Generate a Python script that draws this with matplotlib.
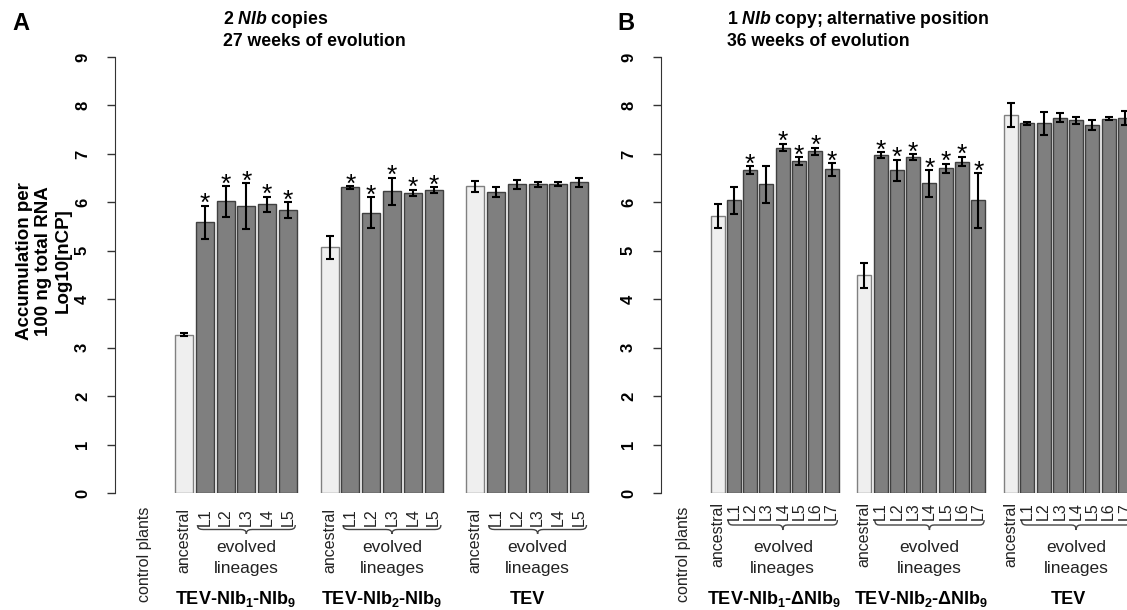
import matplotlib
matplotlib.use("Agg")
import matplotlib.pyplot as plt
from matplotlib.path import Path
from matplotlib.patches import PathPatch

plt.rcParams['font.family'] = ['Liberation Sans', 'DejaVu Sans']
plt.rcParams['mathtext.fontset'] = 'custom'
plt.rcParams['mathtext.rm'] = 'Liberation Sans'
plt.rcParams['mathtext.bf'] = 'Liberation Sans:bold'
plt.rcParams['mathtext.it'] = 'Liberation Sans:italic:bold'

# ---- data (log10 nCP, mean +/- error) ----
# panel A: 2 NIb copies, 27 weeks
a_names = [r'TEV-NIb$_{\mathbf{1}}$-NIb$_{\mathbf{9}}$',
           r'TEV-NIb$_{\mathbf{2}}$-NIb$_{\mathbf{9}}$', 'TEV']
a_lines = ['ancestral', 'L1', 'L2', 'L3', 'L4', 'L5']
a_mean = [[3.27, 5.59, 6.02, 5.92, 5.96, 5.84],
          [5.07, 6.31, 5.79, 6.23, 6.20, 6.26],
          [6.33, 6.22, 6.37, 6.37, 6.38, 6.41]]
a_err = [[0.03, 0.34, 0.32, 0.47, 0.16, 0.16],
         [0.24, 0.03, 0.31, 0.28, 0.06, 0.06],
         [0.11, 0.10, 0.10, 0.05, 0.05, 0.10]]
a_sig = [[0, 1, 1, 1, 1, 1],
         [0, 1, 1, 1, 1, 1],
         [0, 0, 0, 0, 0, 0]]

# panel B: 1 NIb copy, alternative position, 36 weeks
b_names = [r'TEV-NIb$_{\mathbf{1}}$-ΔNIb$_{\mathbf{9}}$',
           r'TEV-NIb$_{\mathbf{2}}$-ΔNIb$_{\mathbf{9}}$', 'TEV']
b_lines = ['ancestral', 'L1', 'L2', 'L3', 'L4', 'L5', 'L6', 'L7']
b_mean = [[5.71, 6.04, 6.66, 6.37, 7.13, 6.85, 7.05, 6.68],
          [4.49, 6.97, 6.66, 6.93, 6.39, 6.70, 6.84, 6.04],
          [7.81, 7.63, 7.63, 7.75, 7.69, 7.60, 7.73, 7.74]]
b_err = [[0.25, 0.28, 0.08, 0.38, 0.08, 0.08, 0.08, 0.13],
         [0.25, 0.06, 0.22, 0.06, 0.27, 0.10, 0.10, 0.56],
         [0.25, 0.03, 0.23, 0.10, 0.08, 0.10, 0.04, 0.15]]
b_sig = [[0, 0, 1, 0, 1, 1, 1, 1],
         [0, 1, 1, 1, 1, 1, 1, 1],
         [0, 0, 0, 0, 0, 0, 0, 0]]

W, H = 1127, 610
fig = plt.figure(figsize=(W / 100, H / 100), dpi=100)


def ypix(px):
    # pixel row -> axes fraction (0 at row 493, 9 at row 57)
    return (493 - px) / 436.0


def brace(ax, x0, x1, ytop, ybot):
    xm = (x0 + x1) / 2.0
    ymid = (ytop + ybot) / 2.0
    w = 0.35
    verts = [(x0, ytop),
             (x0, ymid), (x0 + w / 2, ymid), (x0 + w, ymid),
             (xm - w, ymid),
             (xm - w / 2, ymid), (xm, ymid), (xm, ybot),
             (xm, ymid), (xm + w / 2, ymid), (xm + w, ymid),
             (x1 - w, ymid),
             (x1 - w / 2, ymid), (x1, ymid), (x1, ytop)]
    codes = [Path.MOVETO] + [Path.CURVE4] * 3 + [Path.LINETO] + [Path.CURVE4] * 6 \
        + [Path.LINETO] + [Path.CURVE4] * 3
    ax.add_patch(PathPatch(Path(verts, codes), fill=False, lw=1, ec='#444444',
                           transform=ax.get_xaxis_transform(), clip_on=False))


def panel(ax, names, lines, means, errs, sigs, start, step, width,
          xlim, lab_top, br_top, br_bot):
    tr = ax.get_xaxis_transform()
    n = len(lines)
    for g in range(3):
        xs = [start + g * step + i for i in range(n)]
        cols = ['#efefef'] + ['#7f7f7f'] * (n - 1)
        ecs = ['#808080'] + ['#404040'] * (n - 1)
        ax.bar(xs, means[g], width=width, color=cols, edgecolor=ecs, lw=1)
        ax.errorbar(xs, means[g], yerr=errs[g], fmt='none', ecolor='black',
                    elinewidth=1.5, capsize=3, capthick=1.5)
        for x, m, e, s in zip(xs, means[g], errs[g], sigs[g]):
            if s:
                ax.annotate('*', (x, m + e), xytext=(0, -4), textcoords='offset points',
                            ha='center', va='baseline', fontsize=19)
        for x, lab in zip(xs, lines):
            ax.text(x, lab_top, lab, rotation=90, ha='center', va='top',
                    fontsize=11.5, color='#222222', transform=tr, clip_on=False)
        brace(ax, xs[1] - 0.35, xs[-1] + 0.35, br_top, br_bot)
        xm = (xs[1] + xs[-1]) / 2.0
        ax.text(xm, ypix(548), 'evolved', ha='center', va='center', fontsize=12.5,
                color='#222222', transform=tr)
        ax.text(xm, ypix(569), 'lineages', ha='center', va='center', fontsize=12.5,
                color='#222222', transform=tr)
        ax.text((xs[0] + xs[-1]) / 2.0, ypix(599), names[g], ha='center', va='center',
                fontsize=13, fontweight='bold', transform=tr)
    ax.text(0, ypix(507), 'control plants', rotation=90, ha='center', va='top',
            fontsize=11.5, color='#222222', transform=tr, clip_on=False)

    ax.set_xlim(*xlim)
    ax.set_ylim(0, 9)
    ax.set_yticks(range(10))
    ax.set_yticklabels([str(i) for i in range(10)], rotation=90, va='center',
                       fontweight='bold', fontsize=12)
    ax.tick_params(axis='y', length=6, width=1, color='#333333', pad=12)
    ax.set_xticks([])
    for s in ['top', 'right', 'bottom']:
        ax.spines[s].set_visible(False)
    ax.spines['left'].set_color('#333333')
    ax.patch.set_alpha(0)


axA = fig.add_axes([115 / W, 117 / H, 485 / W, 436 / H])
panel(axA, a_names, a_lines, a_mean, a_err, a_sig, 1.875, 7, 0.86,
      (-1.44, 21.875), ypix(508), ypix(525), ypix(534))

axB = fig.add_axes([661 / W, 117 / H, 466 / W, 436 / H])
panel(axB, b_names, b_lines, b_mean, b_err, b_sig, 2.12, 9, 0.86,
      (-1.35, 27.24), ypix(502), ypix(520), ypix(530))

fig.text(44 / W, 1 - 261 / H, 'Accumulation per\n100 ng total RNA\nLog10[nCP]',
         rotation=90, ha='center', va='center', multialignment='center',
         fontsize=13.5, fontweight='bold', linespacing=1.2)

fig.text(12 / W, 1 - 23 / H, 'A', fontsize=17, fontweight='bold', va='center')
fig.text(617 / W, 1 - 23 / H, 'B', fontsize=17, fontweight='bold', va='center')
fig.text(223 / W, 1 - 19 / H, r'2 $\mathit{NIb}$ copies', fontsize=12.7,
         fontweight='bold', va='center')
fig.text(223 / W, 1 - 42 / H, '27 weeks of evolution', fontsize=12.7,
         fontweight='bold', va='center')
fig.text(727 / W, 1 - 19 / H, r'1 $\mathit{NIb}$ copy; alternative position',
         fontsize=12.7, fontweight='bold', va='center')
fig.text(727 / W, 1 - 42 / H, '36 weeks of evolution', fontsize=12.7,
         fontweight='bold', va='center')

fig.savefig('out.png', dpi=100)
